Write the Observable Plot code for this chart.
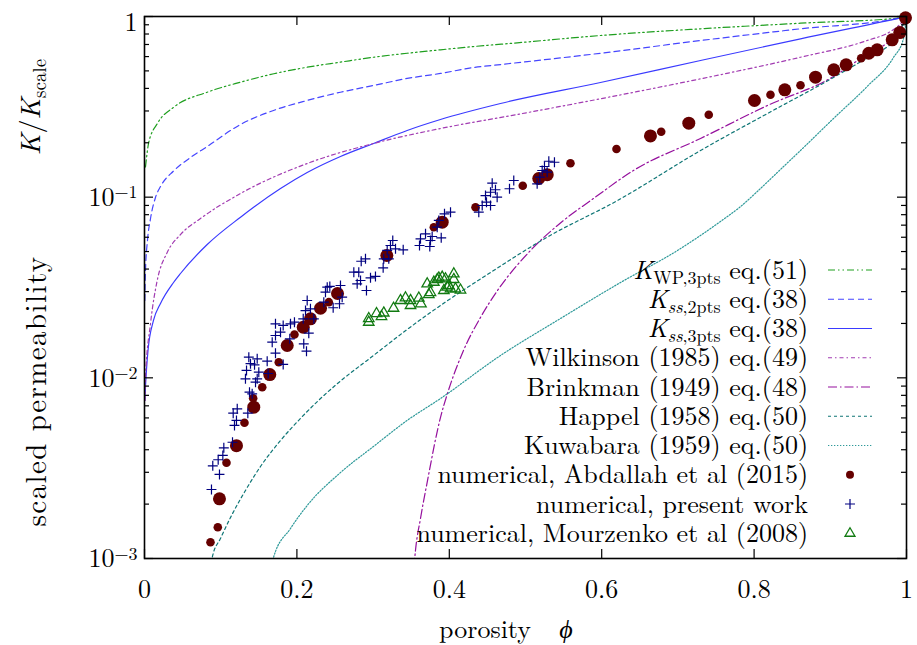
<!DOCTYPE html>
<html><head><meta charset="utf-8">
<script src="https://cdn.jsdelivr.net/npm/d3@7"></script>
<script src="https://cdn.jsdelivr.net/npm/@observablehq/plot@0.6"></script>
<style>body{margin:0;background:#fff} svg{display:block}</style>
</head><body><div id="chart"></div>
<script>
// ---- tick values / labels ----
const phiTicks = [0, 0.2, 0.4, 0.6, 0.8, 1];
const phiTickLabels = ["0", "0.2", "0.4", "0.6", "0.8", "1"];
const kTicks = [1e-3, 1e-2, 1e-1, 1];
const kTickLabels = ["10^-3", "10^-2", "10^-1", "1"];

// ---- model curves [porosity, K/Kscale] ----
const kWP3 = [[0.0013,0.147],[0.0056,0.201],[0.0167,0.255],[0.0385,0.315],[0.0823,0.381],[0.126,0.433],[0.1697,0.482],[0.2135,0.524],[0.2572,0.559],[0.3005,0.595],[0.3447,0.626],[0.3884,0.654],[0.4317,0.682],[0.4891,0.715],[0.5984,0.785],[0.7297,0.855],[0.8609,0.918],[0.9921,0.983],[1,1]];
const kSS2 = [[0.0004,0.0268],[0.0013,0.0393],[0.0039,0.0576],[0.0079,0.0762],[0.0144,0.0996],[0.021,0.1145],[0.0381,0.1395],[0.0604,0.1658],[0.0823,0.1907],[0.126,0.2525],[0.1693,0.302],[0.2135,0.343],[0.2572,0.381],[0.3005,0.415],[0.3447,0.454],[0.3884,0.484],[0.4317,0.522],[0.4672,0.542],[0.5984,0.626],[0.7297,0.736],[0.8609,0.855],[0.9921,0.983],[1,1]];
const kSS3 = [[0.0004,0.00749],[0.0013,0.00895],[0.0046,0.01417],[0.0118,0.02077],[0.021,0.0258],[0.0381,0.0337],[0.0472,0.0378],[0.0823,0.0547],[0.126,0.0775],[0.1785,0.1117],[0.2135,0.137],[0.2572,0.168],[0.3005,0.1982],[0.3447,0.234],[0.3884,0.269],[0.4672,0.33],[0.5984,0.431],[0.7297,0.5707],[0.8609,0.7523],[0.9921,0.983],[1,1]];
const wilkinson = [[0.0007,0.00749],[0.0013,0.01004],[0.0079,0.02],[0.0167,0.0346],[0.0298,0.0494],[0.0472,0.0621],[0.0735,0.0762],[0.126,0.1048],[0.2135,0.1536],[0.3005,0.1982],[0.3884,0.2399],[0.4891,0.2868],[0.5984,0.3504],[0.7297,0.4519],[0.8609,0.5952],[0.9484,0.7363],[0.979,0.826],[0.9921,0.911],[1,1]];
const brinkman = [[0.3504,0.000586],[0.3556,0.001107],[0.3622,0.001665],[0.3714,0.0027],[0.3884,0.00603],[0.3976,0.00819],[0.4186,0.01417],[0.4409,0.02158],[0.4633,0.03044],[0.5066,0.0507],[0.5499,0.0743],[0.5892,0.0983],[0.6417,0.1405],[0.7297,0.2113],[0.8176,0.3217],[0.9042,0.4655],[0.9396,0.5856],[0.9921,0.858],[1,1]];
const happel = [[0.084,0.000755],[0.0892,0.001026],[0.0997,0.00129],[0.1129,0.001687],[0.1325,0.00238],[0.1522,0.00323],[0.1785,0.0045],[0.2047,0.00596],[0.231,0.00768],[0.2533,0.0093],[0.3005,0.01329],[0.3447,0.01852],[0.3884,0.02514],[0.4541,0.0383],[0.5276,0.0598],[0.6207,0.0958],[0.7297,0.1813],[0.8176,0.2905],[0.9042,0.4597],[0.9488,0.593],[0.9856,0.7556],[1,1]];
const kuwabara = [[0.1627,0.000755],[0.1693,0.001013],[0.1916,0.001466],[0.2135,0.001965],[0.2572,0.00299],[0.3005,0.00417],[0.3447,0.00581],[0.3884,0.00768],[0.4672,0.01329],[0.5459,0.0213],[0.6247,0.0337],[0.6995,0.0507],[0.7297,0.0614],[0.7559,0.0733],[0.7822,0.0887],[0.8084,0.1117],[0.8346,0.1423],[0.8609,0.1813],[0.9042,0.2725],[0.9484,0.41],[0.9829,0.593],[0.9961,0.7556],[1,1]];

// ---- numerical data ----
const abdallahSet1 = [[0.0984,0.00214],[0.1207,0.00421],[0.1434,0.00688],[0.1644,0.01043],[0.1873,0.0151],[0.2083,0.01906],[0.2178,0.02122],[0.231,0.02428],[0.2533,0.0293],[0.318,0.04754],[0.3907,0.0727],[0.5174,0.1269],[0.5285,0.1332],[0.664,0.2182],[0.7143,0.2567],[0.8005,0.3428],[0.8403,0.3928],[0.8806,0.4613],[0.9046,0.507],[0.9208,0.54],[0.9505,0.626],[0.9615,0.654],[0.9812,0.743],[0.9912,0.815],[0.9987,0.983]];
const abdallahSet2 = [[0.0866,0.00123],[0.0962,0.00149],[0.1076,0.00339],[0.1312,0.00564],[0.1426,0.00771],[0.1545,0.00887],[0.1762,0.0122],[0.1968,0.01738],[0.2419,0.02623],[0.3797,0.0682],[0.4344,0.088],[0.4964,0.1156],[0.559,0.1542],[0.6194,0.1848],[0.6781,0.23],[0.7405,0.2857],[0.8215,0.3687],[0.8609,0.4166],[0.9405,0.5877]];
const presentWork = [[0.0879,0.00241],[0.0984,0.00292],[0.0896,0.00326],[0.0967,0.00352],[0.1028,0.00372],[0.1041,0.0041],[0.1155,0.0044],[0.1181,0.00545],[0.1207,0.00581],[0.1164,0.00637],[0.1217,0.00674],[0.1356,0.00637],[0.1378,0.00833],[0.1413,0.00816],[0.1457,0.00946],[0.1479,0.00988],[0.1325,0.00988],[0.1339,0.01099],[0.1391,0.01197],[0.1369,0.01301],[0.1479,0.01274],[0.1444,0.01181],[0.15,0.01075],[0.161,0.01236],[0.1623,0.01057],[0.1719,0.01369],[0.182,0.01186],[0.1676,0.01575],[0.1719,0.01715],[0.1785,0.01789],[0.1719,0.01991],[0.182,0.0195],[0.1916,0.01991],[0.1968,0.02032],[0.1907,0.01644],[0.209,0.01543],[0.2126,0.01404],[0.2156,0.01766],[0.2083,0.02122],[0.2113,0.02358],[0.2178,0.0241],[0.2135,0.0268],[0.2222,0.02122],[0.2353,0.02623],[0.2375,0.02979],[0.2398,0.03175],[0.2432,0.03205],[0.2476,0.02443],[0.2559,0.0257],[0.2594,0.02794],[0.2572,0.03243],[0.2747,0.03844],[0.2812,0.03844],[0.2791,0.03315],[0.2835,0.03457],[0.2913,0.03044],[0.2844,0.0442],[0.29,0.0456],[0.2966,0.03578],[0.3031,0.0364],[0.3132,0.04064],[0.314,0.0456],[0.3185,0.0507],[0.3228,0.054],[0.3258,0.05756],[0.3294,0.05178],[0.3395,0.05113],[0.3206,0.0456],[0.3609,0.054],[0.3622,0.05882],[0.3688,0.06268],[0.3744,0.05333],[0.3753,0.05756],[0.3775,0.06057],[0.3841,0.0682],[0.3862,0.0743],[0.3894,0.05957],[0.3937,0.0809],[0.4016,0.0826],[0.4387,0.0826],[0.4432,0.0899],[0.4488,0.0938],[0.4475,0.1021],[0.4541,0.1065],[0.4563,0.1195],[0.4606,0.1099],[0.4628,0.09995],[0.4541,0.0899],[0.479,0.1113],[0.4846,0.1237],[0.5153,0.1186],[0.5188,0.129],[0.5219,0.1405],[0.5249,0.1478],[0.5306,0.1581],[0.538,0.1561],[0.5284,0.1375]];
const mourzenko = [[0.2943,0.02032],[0.2943,0.0213],[0.311,0.02185],[0.314,0.02285],[0.3268,0.02428],[0.3359,0.0268],[0.3425,0.02773],[0.3491,0.0268],[0.3491,0.02514],[0.36,0.02766],[0.3628,0.0257],[0.3731,0.02892],[0.371,0.03315],[0.3797,0.03383],[0.3862,0.0357],[0.3907,0.03606],[0.395,0.03533],[0.3993,0.03243],[0.4059,0.03765],[0.4059,0.03502],[0.3928,0.03044],[0.4016,0.03111],[0.4081,0.03111],[0.4147,0.03063],[0.3972,0.03175],[0.3753,0.02967],[0.3841,0.03502],[0.3045,0.0227]];

const FONT = "'Latin Modern Roman', 'CMU Serif', 'Liberation Serif', 'DejaVu Serif', serif";
const FS = 26, FSUB = 18, FSY = 29;

const series = [
  {data: kWP3, stroke: "#1f9f1f", dash: "7,3,1.5,3,1.5,3"},
  {data: kSS2, stroke: "#4646ff", dash: "6,4"},
  {data: kSS3, stroke: "#3a3aff", dash: null},
  {data: wilkinson, stroke: "#a23cb2", dash: "4,3,1.5,3"},
  {data: brinkman, stroke: "#95109d", dash: "9,3,1.5,3"},
  {data: happel, stroke: "#0f7676", dash: "3,3"},
  {data: kuwabara, stroke: "#2f9a9a", dash: "1.3,1.7"}
];

const W = 917, H = 645, mL = 144, mR = 11, mT = 16, mB = 87;
const iw = W - mL - mR, ih = H - mT - mB;

const minorK = [];
for (const dec of [1e-3, 1e-2, 1e-1]) for (let m = 2; m <= 9; m++) minorK.push(m * dec);

const X = d => d[0], Y = d => d[1];

const plot = Plot.plot({
  width: W, height: H,
  marginLeft: mL, marginRight: mR, marginTop: mT, marginBottom: mB,
  style: {fontFamily: FONT, fontSize: FS + "px", background: "white", color: "black", overflow: "visible"},
  x: {domain: [0, 1], label: null},
  y: {type: "log", domain: [1e-3, 1], label: null},
  marks: [
    ...series.map(s => Plot.line(s.data, {x: X, y: Y, stroke: s.stroke, strokeWidth: 1.2,
      strokeDasharray: s.dash, curve: "monotone-x", clip: true})),
    Plot.dot(abdallahSet1, {x: X, y: Y, r: 6.5, fill: "#650000"}),
    Plot.dot(abdallahSet2, {x: X, y: Y, r: 4.3, fill: "#650000"}),
    Plot.dot(presentWork, {x: X, y: Y, symbol: "plus", r: 3.3, stroke: "#000080", strokeWidth: 1.2}),
    Plot.dot(mourzenko, {x: X, y: Y, symbol: "triangle2", r: 5, stroke: "#117a11", strokeWidth: 1.3, fill: "none"}),
    Plot.tickY(kTicks, {y: d => d, insetRight: iw - 9, stroke: "black", strokeWidth: 1.2}),
    Plot.tickY(kTicks, {y: d => d, insetLeft: iw - 9, stroke: "black", strokeWidth: 1.2}),
    Plot.tickY(minorK, {y: d => d, insetRight: iw - 5, stroke: "black", strokeWidth: 1.2}),
    Plot.tickY(minorK, {y: d => d, insetLeft: iw - 5, stroke: "black", strokeWidth: 1.2}),
    Plot.tickX(phiTicks, {x: d => d, insetTop: ih - 9, stroke: "black", strokeWidth: 1.2}),
    Plot.tickX(phiTicks, {x: d => d, insetBottom: ih - 9, stroke: "black", strokeWidth: 1.2}),
    Plot.axisX(phiTicks, {tickSize: 0, tickPadding: 21, fontSize: FS, tickFormat: d => phiTickLabels[phiTicks.indexOf(d)]}),
    Plot.axisY(kTicks, {tickSize: 0, tickPadding: 7, fontSize: FS, tickFormat: d => kTickLabels[kTicks.indexOf(d)]}),
    Plot.frame({stroke: "black", strokeWidth: 1.6})
  ]
});

document.getElementById("chart").appendChild(plot);
const svg = d3.select(plot);
svg.style("font-family", FONT);

// superscripts on y tick labels
svg.selectAll('g[aria-label="y-axis tick label"] text').each(function() {
  const t = d3.select(this);
  const s = t.text();
  if (s.includes("^")) {
    const [b, e] = s.split("^");
    t.text(null).attr("dy", "0.02em");
    t.append("tspan").text(b);
    t.append("tspan").attr("dy", "-0.42em").attr("font-size", FSUB + "px").text(e.replace("-", "\u2212"));
  } else {
    t.attr("dy", "0.22em");
  }
});

// axis titles
const g = svg.append("g").style("font-family", FONT).attr("fill", "black");
g.append("text").attr("transform", "translate(46,391) rotate(-90)").attr("text-anchor", "middle")
  .attr("font-size", FSY).attr("letter-spacing", 1.4).text("scaled permeability");
const kl = g.append("text").attr("transform", "translate(40,107) rotate(-90)").attr("text-anchor", "middle").attr("font-size", FSY - 1);
kl.append("tspan").attr("font-style", "italic").text("K");
kl.append("tspan").text("/");
kl.append("tspan").attr("font-style", "italic").text("K");
kl.append("tspan").attr("dy", 6).attr("font-size", FSUB + 1).text("scale");
g.append("text").attr("x", 485).attr("y", 638).attr("text-anchor", "middle").attr("font-size", FS).text("porosity");
g.append("text").attr("x", 566).attr("y", 638).attr("text-anchor", "middle").attr("font-size", FS).attr("font-style", "italic").text("\u03D5");

// legend
const rows = [
  [["i","K"],["sub","WP,3pts"],["n"," eq.(51)"]],
  [["i","K"],["subi","ss"],["sub",",2pts"],["n"," eq.(38)"]],
  [["i","K"],["subi","ss"],["sub",",3pts"],["n"," eq.(38)"]],
  [["n","Wilkinson (1985) eq.(49)"]],
  [["n","Brinkman (1949) eq.(48)"]],
  [["n","Happel (1958) eq.(50)"]],
  [["n","Kuwabara (1959) eq.(50)"]],
  [["n","numerical, Abdallah et al (2015)"]],
  [["n","numerical, present work"]],
  [["n","numerical, Mourzenko et al (2008)"]]
];
const lg = svg.append("g").style("font-family", FONT).attr("fill", "black");
rows.forEach((parts, i) => {
  const cy = 270 + i * 29.25;
  const t = lg.append("text").attr("x", 808).attr("y", cy + 8.5).attr("text-anchor", "end").attr("font-size", FS);
  let sub = false;
  parts.forEach(([k, s]) => {
    const sp = t.append("tspan").text(s);
    if (k === "i") sp.attr("font-style", "italic");
    if (k === "sub" || k === "subi") {
      sp.attr("font-size", FSUB);
      if (k === "subi") sp.attr("font-style", "italic");
      if (!sub) { sp.attr("dy", 5); sub = true; }
    }
    if (k === "n" && sub) { sp.attr("dy", -5); sub = false; }
  });
  if (i < series.length) {
    lg.append("line").attr("x1", 828).attr("x2", 872).attr("y1", cy).attr("y2", cy)
      .attr("stroke", series[i].stroke).attr("stroke-width", 1.2)
      .attr("stroke-dasharray", series[i].dash);
  }
});
lg.append("circle").attr("cx", 850).attr("cy", 270 + 7 * 29.25).attr("r", 4).attr("fill", "#650000");
const py = 270 + 8 * 29.25;
lg.append("path").attr("d", `M845,${py}H855M850,${py - 5}V${py + 5}`).attr("stroke", "#000080").attr("stroke-width", 1.2);
const ty = 270 + 9 * 29.25;
lg.append("path").attr("d", `M850,${ty - 5.5}L855,${ty + 3}L845,${ty + 3}Z`).attr("stroke", "#117a11").attr("stroke-width", 1.3).attr("fill", "none");
</script></body></html>
